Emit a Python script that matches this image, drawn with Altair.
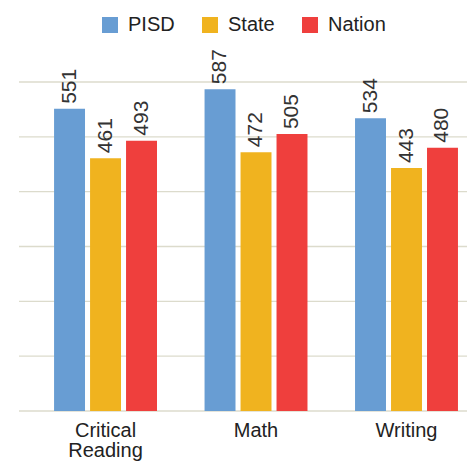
import altair as alt
import pandas as pd

subjects = ["Critical Reading", "Math", "Writing"]
series = ["PISD", "State", "Nation"]
pisd = [551, 587, 534]
state = [461, 472, 443]
nation = [493, 505, 480]
grid_values = [0, 100, 200, 300, 400, 500, 600]
colors = ["#689dd3", "#f0b31f", "#ef3f3d"]

rows = []
for i, s in enumerate(subjects):
    for name, vals in zip(series, [pisd, state, nation]):
        rows.append({"subject": s, "series": name, "value": vals[i]})
df = pd.DataFrame(rows)
grid_df = pd.DataFrame({"v": grid_values})

FONT = "Liberation Sans"
# plot area: x 37..467 (page px), y 82..411
W, H = 430, 329

x_enc = alt.X("subject:N", sort=subjects, title=None,
              scale=alt.Scale(paddingInner=0.316, paddingOuter=0.0867, align=0.654),
              axis=alt.Axis(domain=False, ticks=False, grid=False,
                            labelFontSize=20, labelFont=FONT, labelColor="#222222",
                            labelPadding=9, labelAngle=0, labelLineHeight=20,
                            labelExpr="split(datum.label, ' ')"))
xo_enc = alt.XOffset("series:N", sort=series,
                     scale=alt.Scale(paddingInner=0.14, paddingOuter=0))
y_scale = alt.Scale(domain=[0, 600])

grid = alt.Chart(grid_df).mark_rule(color="#dcdbcc", strokeWidth=1.3).encode(
    y=alt.Y("v:Q", scale=y_scale, axis=None),
    x=alt.value(-18),
    x2=alt.value(W),
)

bars = alt.Chart(df).mark_bar().encode(
    x=x_enc,
    xOffset=xo_enc,
    y=alt.Y("value:Q", scale=y_scale, axis=None),
    color=alt.Color("series:N", sort=series,
                    scale=alt.Scale(domain=series, range=colors),
                    legend=alt.Legend(title=None, orient="none", legendX=63, legendY=-67,
                                      direction="horizontal", symbolType="square",
                                      symbolSize=256, symbolStrokeWidth=0,
                                      labelFontSize=20, labelFont=FONT,
                                      labelColor="#222222", labelOffset=8,
                                      columnPadding=25)),
)

labels = alt.Chart(df).mark_text(angle=270, align="left", baseline="middle", dx=5,
                                 fontSize=21, font=FONT, color="#333333").encode(
    x=x_enc,
    xOffset=xo_enc,
    y=alt.Y("value:Q", scale=y_scale, axis=None),
    text=alt.Text("value:Q"),
)

chart = alt.layer(grid, bars, labels).properties(
    width=W, height=H,
    autosize=alt.AutoSizeParams(type="none"),
    padding={"left": 29, "top": 74, "right": 0, "bottom": 52},
    background="white",
).configure_view(stroke=None)

chart.save("out.html", embed_options={"renderer": "svg", "actions": False})
